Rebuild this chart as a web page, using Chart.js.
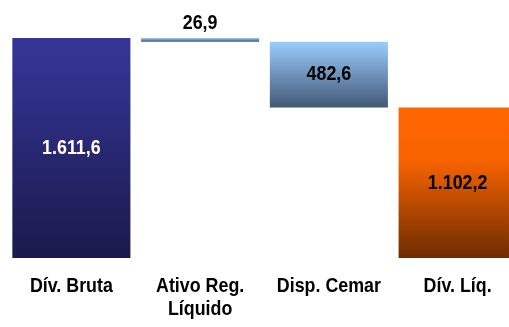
<!DOCTYPE html>
<html>
<head>
<meta charset="utf-8">
<script src="https://cdn.jsdelivr.net/npm/chart.js@4"></script>
<style>
  html, body { margin: 0; padding: 0; background: #fff; overflow: hidden; }
  #wrap { width: 522px; height: 327px; }
</style>
</head>
<body>
<div id="wrap"><canvas id="myChart"></canvas></div>
<script>
// categorias e valores (R$ milhões)
const categorias = [['Dív. Bruta'], ['Ativo Reg.', 'Líquido'], ['Disp. Cemar'], ['Dív. Líq.']];
const valores = [1611.6, 26.9, 482.6, 1102.2];
const rotulos = ['1.611,6', '26,9', '482,6', '1.102,2'];
const tipos = ['total', 'menos', 'menos', 'total'];

// barras flutuantes (cascata)
const faixas = [];
let nivel = 0;
valores.forEach((v, i) => {
    if (tipos[i] === 'total') {
        faixas.push([0, v]);
        nivel = v;
    } else {
        faixas.push([nivel - v, nivel]);
        nivel = nivel - v;
    }
});

const cores = [
    [[0, '#36369a'], [1, '#1a1a4c']],
    [[0, '#9cccf8'], [1, '#3f5877']],
    [[0, '#9acdff'], [1, '#435876']],
    [[0, '#ff6600'], [0.35, '#f86300'], [1, '#6c2c00']]
];

const FONTE = 'bold 21px "Liberation Sans", Arial, sans-serif';
const ESTREITO = 0.85; // simula Arial Narrow

function gradiente(ctx) {
    const chart = ctx.chart;
    const y = chart.scales && chart.scales.y;
    const f = faixas[ctx.dataIndex];
    if (!y || !chart.chartArea) return cores[ctx.dataIndex][0][1];
    const top = y.getPixelForValue(f[1]);
    const bot = y.getPixelForValue(f[0]);
    if (!isFinite(top) || !isFinite(bot)) return cores[ctx.dataIndex][0][1];
    const g = chart.ctx.createLinearGradient(0, top, 0, bot);
    cores[ctx.dataIndex].forEach(s => g.addColorStop(s[0], s[1]));
    return g;
}

function texto(ctx, t, x, y) {
    ctx.save();
    ctx.translate(x, y);
    ctx.scale(ESTREITO, 1);
    ctx.fillText(t, 0, 0);
    ctx.restore();
}

const rotuloPlugin = {
    id: 'rotulos',
    afterDatasetsDraw(chart) {
        const ctx = chart.ctx;
        const meta = chart.getDatasetMeta(0);
        const xs = chart.scales.x;
        const base = chart.chartArea.bottom;
        ctx.save();
        ctx.font = FONTE;
        ctx.textAlign = 'center';
        // valores
        ctx.textBaseline = 'middle';
        meta.data.forEach((bar, i) => {
            const top = Math.min(bar.y, bar.base);
            const bot = Math.max(bar.y, bar.base);
            if (bot - top < 30) {
                ctx.fillStyle = '#000';
                texto(ctx, rotulos[i], bar.x, top - 15);
            } else {
                ctx.fillStyle = i === 0 ? '#fff' : '#000';
                texto(ctx, rotulos[i], bar.x, (top + bot) / 2);
            }
        });
        // categorias
        ctx.textBaseline = 'alphabetic';
        ctx.fillStyle = '#000';
        categorias.forEach((linhas, i) => {
            const x = xs.getPixelForValue(i);
            linhas.forEach((l, j) => texto(ctx, l, x, base + 34 + j * 23));
        });
        ctx.restore();
    }
};

new Chart(document.getElementById('myChart'), {
    type: 'bar',
    data: {
        labels: categorias,
        datasets: [{
            data: faixas,
            backgroundColor: gradiente,
            borderWidth: 0,
            borderSkipped: false,
            barPercentage: 0.917,
            categoryPercentage: 1
        }]
    },
    options: {
        responsive: true,
        maintainAspectRatio: false,
        animation: false,
        layout: { padding: { left: 7, right: 0, top: 0, bottom: 69 } },
        plugins: { legend: { display: false }, tooltip: { enabled: false } },
        scales: {
            x: { display: false },
            y: { display: false, min: 0, max: 1890 }
        }
    },
    plugins: [rotuloPlugin]
});
</script>
</body>
</html>
